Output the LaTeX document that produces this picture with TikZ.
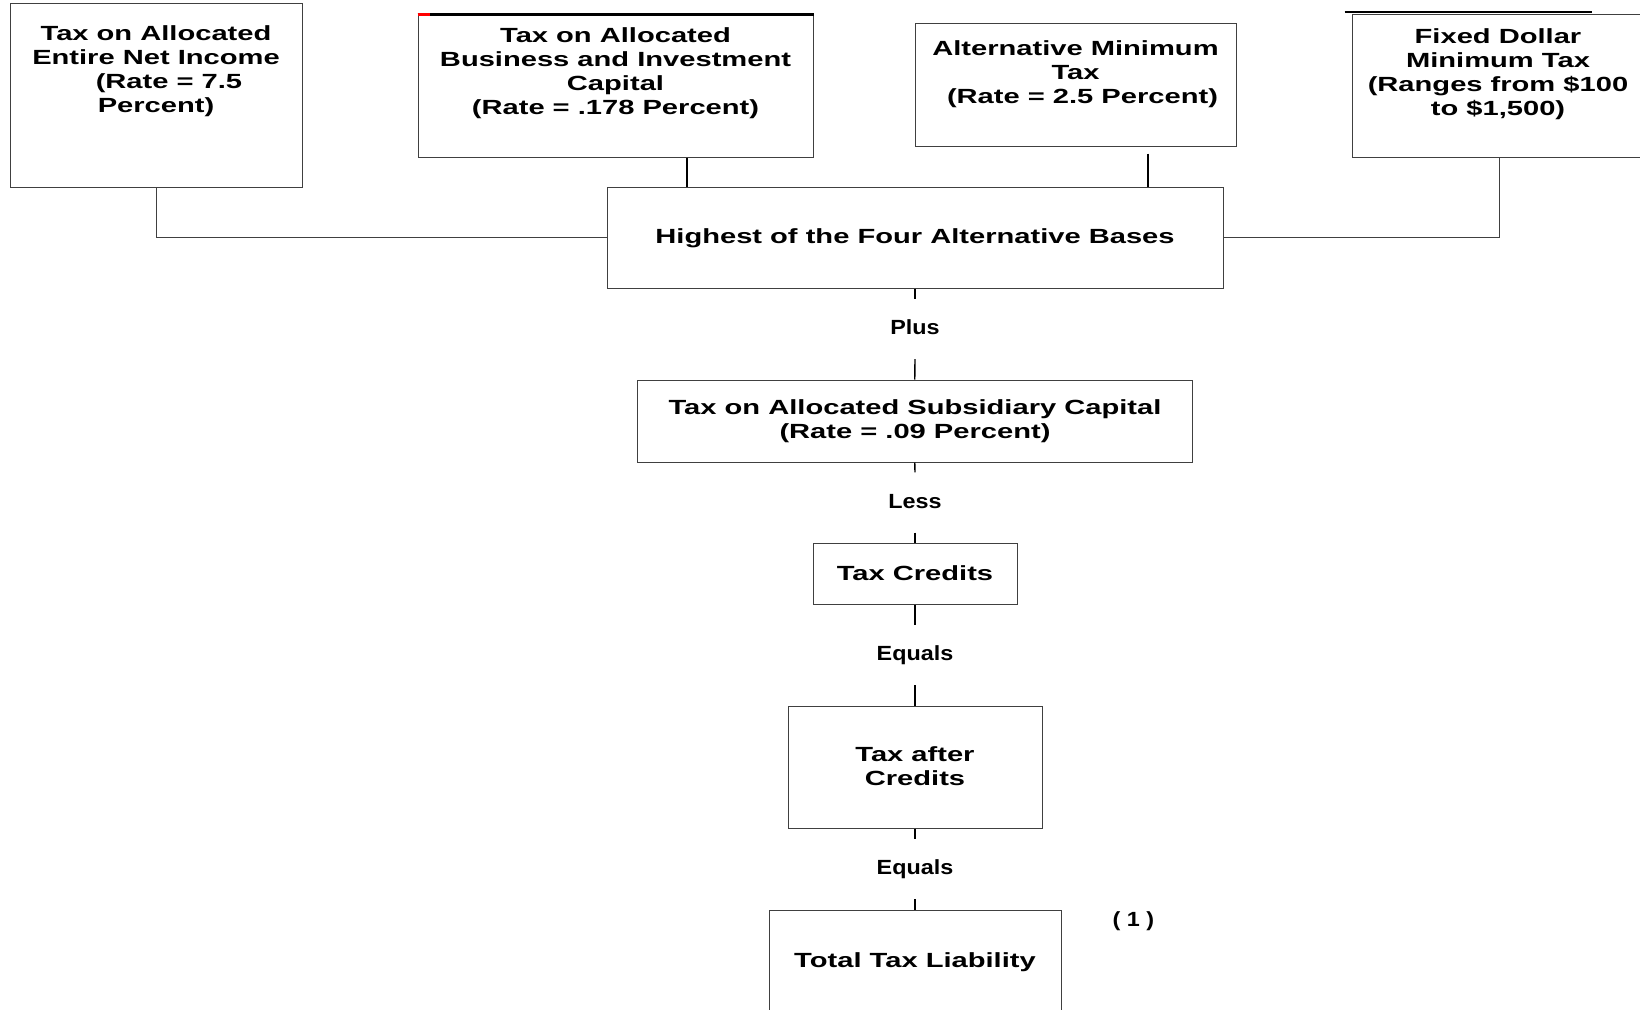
\documentclass[tikz,border=0pt]{standalone}
\usepackage{fontspec}
\newfontfamily\boxf[FakeStretch=1.42]{Liberation Sans}
\newfontfamily\labf[FakeStretch=1.14]{Liberation Sans}
\begin{document}
\begin{tikzpicture}[x=1pt,y=-1pt,
  box/.style={draw=black!75, line width=1pt, rectangle, inner sep=0pt},
  txt/.style={font={\boxf\bfseries\fontsize{20.5}{24}\selectfont}, align=center, inner sep=0pt, anchor=base},
  lab/.style={font={\labf\bfseries\fontsize{20.5}{24}\selectfont}, inner sep=0pt, minimum height=60pt, text height=15pt, text depth=4pt},
  conn/.style={line width=1.4pt, black},
  thinconn/.style={line width=1pt, black!75}]
\clip (0,0) rectangle (1640,1009);
\fill[white] (0,0) rectangle (1640,1009);
% top boxes
\node[box, minimum width=291.5pt, minimum height=184pt] (b1) at (156.25,95) {};
\node[box, minimum width=395pt, minimum height=142pt] (b2) at (615.5,86) {};
\node[box, minimum width=321pt, minimum height=123pt] (b3) at (1075.5,84.5) {};
\node[box, minimum width=294pt, minimum height=143pt] (b4) at (1499,85.5) {};
\draw[line width=2.5pt] (b2.north west) -- (b2.north east);
\draw[red, line width=2.5pt] (b2.north west) -- ++(12,0);
\draw[line width=2.5pt] ([xshift=-7pt,yshift=1.3pt]b4.north west) -- ++(247,0);
\node[txt] (t1) at (156,112) {Tax on Allocated\\Entire Net Income\\\hspace*{26pt}(Rate = 7.5\\Percent)};
\node[txt] (t2) at (615.5,114) {Tax on Allocated\\Business and Investment\\Capital\\(Rate = .178 Percent)};
\node[txt] (t3) at (1075.5,103) {Alternative Minimum\\Tax\\\hspace*{14pt}(Rate = 2.5 Percent)};
\node[txt] (t4) at (1498,115) {Fixed Dollar\\Minimum Tax\\(Ranges from \$100\\to \$1,500)};
% central column
\node[box, minimum width=616pt, minimum height=101pt] (high) at (915,237.5) {};
\node[txt] (thigh) at (915,243) {Highest of the Four Alternative Bases};
\node[lab] (plus) at (915,329) {Plus};
\node[box, minimum width=554.5pt, minimum height=82pt] (sub) at (914.75,421) {};
\node[txt] (tsub) at (915,438) {Tax on Allocated Subsidiary Capital\\(Rate = .09 Percent)};
\node[lab] (less) at (915,502.5) {Less};
\node[box, minimum width=204pt, minimum height=61pt] (cred) at (915,573.5) {};
\node[txt] (tcred) at (915,580) {Tax Credits};
\node[lab] (eq1) at (915,655) {Equals};
\node[box, minimum width=254pt, minimum height=122pt] (after) at (915,767) {};
\node[txt] (tafter) at (915,785) {Tax after\\Credits};
\node[lab] (eq2) at (915,869) {Equals};
\node[box, minimum width=292pt, minimum height=120pt] (total) at (915,970) {};
\node[txt] (ttotal) at (915,967) {Total Tax Liability};
\node[font={\labf\bfseries\fontsize{20.5}{24}\selectfont}, inner sep=0pt, anchor=base] (note) at (1133.5,926) {( 1 )};
% connectors
\draw[thinconn] (b1.south) |- (high.west);
\draw[thinconn] (b4.south) |- (high.east);
\draw[conn] ([xshift=71.5pt]b2.south) -- ([xshift=71.5pt]b2.south |- high.north);
\draw[conn] ([xshift=72.5pt,yshift=-7pt]b3.south) -- ([xshift=72.5pt]b3.south |- high.north);
\draw[conn] (high.south) -- (plus.north);
\draw[conn] (plus.south) -- (sub.north);
\draw[conn] (sub.south) -- (less.north);
\draw[conn] (less.south) -- (cred.north);
\draw[conn] (cred.south) -- (eq1.north);
\draw[conn] (eq1.south) -- (after.north);
\draw[conn] (after.south) -- (eq2.north);
\draw[conn] (eq2.south) -- (total.north);
\end{tikzpicture}
\end{document}
